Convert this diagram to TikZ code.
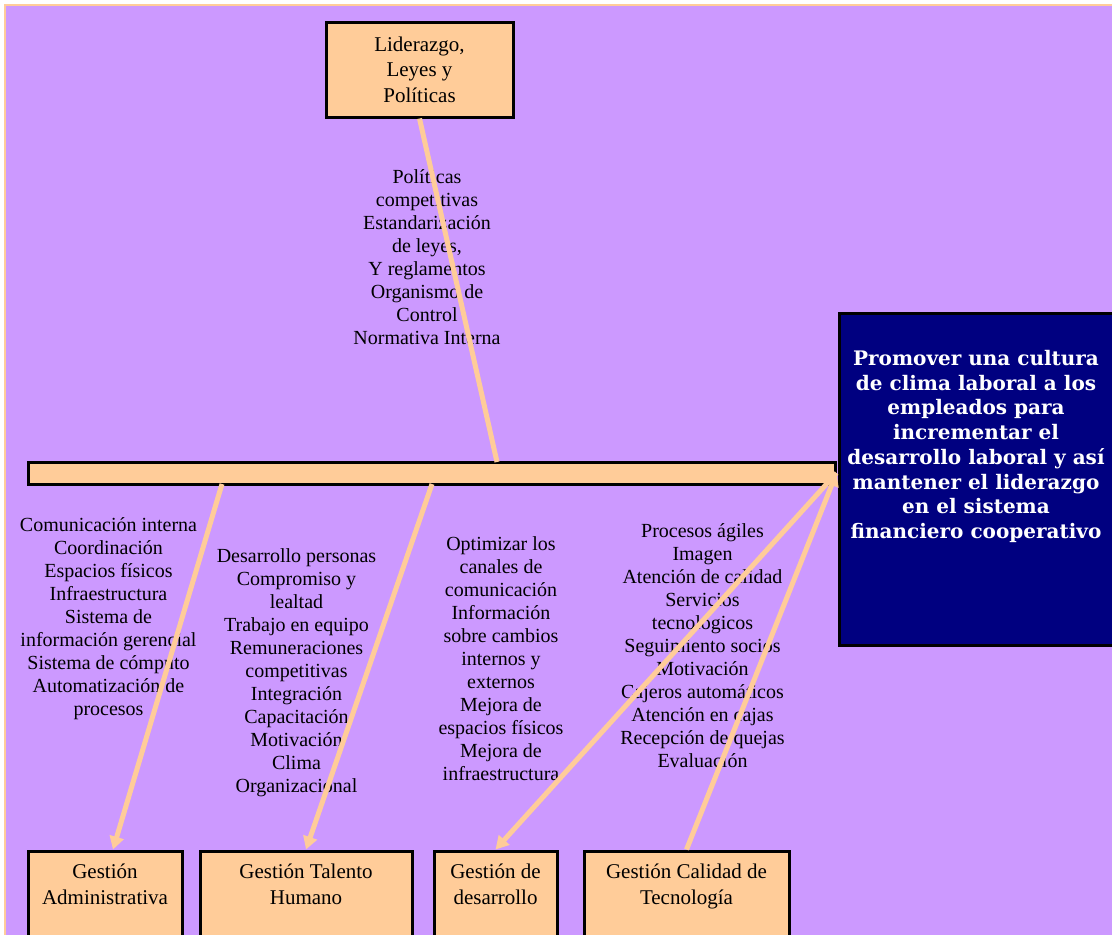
\documentclass[tikz,border=0pt]{standalone}
\usepackage{fontspec}
\setmainfont{Liberation Serif}
\newfontfamily\metafont{DejaVu Serif}
\usetikzlibrary{arrows.meta, positioning, calc}
\definecolor{lila}{HTML}{CC99FF}
\definecolor{durazno}{HTML}{FFCC99}
\definecolor{marino}{HTML}{000080}

\begin{document}
\begin{tikzpicture}[x=0.5pt, y=-0.5pt,
    caja/.style={rectangle, draw=black, line width=1.5pt, fill=durazno, inner sep=0pt},
    gtxt/.style={align=center, inner sep=0pt, font=\fontsize{10.5}{12.8}\selectfont},
    lista/.style={align=center, inner sep=0pt, font=\fontsize{10}{11.5}\selectfont},
    linea/.style={draw=durazno, line width=2.5pt},
    flecha/.style={linea, -{Triangle[length=6.5pt, width=7pt]}}]
    \useasboundingbox (0,0) rectangle (1112,934);
    \clip (0,0) rectangle (1112,934);
    \draw[draw=durazno, fill=lila, line width=1pt] (5,5) rectangle (1130,950);

    % cabeza y espina
    \node[caja, gtxt, minimum width=93.5pt, minimum height=47.5pt] (lider) at (419.5,69.5) {Liderazgo,\\Leyes y\\Políticas};
    \node[caja, minimum width=403.5pt, minimum height=11pt] (barra) at (431.5,473) {};
    \node[caja, fill=marino, minimum width=140pt, minimum height=166pt] (meta) at (979,479) {};
    \node[align=center, inner sep=0pt, text=white, font=\metafont\bfseries\fontsize{10}{12.35}\selectfont] (tmeta) at (976,446.5)
        {Promover una cultura\\de clima laboral a los\\empleados para\\incrementar el\\desarrollo laboral y así\\mantener el liderazgo\\en el sistema\\financiero cooperativo};

    % cajas de abajo
    \node[caja, minimum width=77pt, minimum height=45pt] (gadm) at (105,896) {};
    \node[caja, minimum width=106pt, minimum height=45pt] (gtal) at (306,896) {};
    \node[caja, minimum width=61.5pt, minimum height=45pt] (gdes) at (495.5,896) {};
    \node[caja, minimum width=102.5pt, minimum height=45pt] (gcal) at (686.5,896) {};
    \node[gtxt, below=7pt of gadm.north] (tgadm) {Gestión\\Administrativa};
    \node[gtxt, below=7pt of gtal.north] (tgtal) {Gestión Talento\\Humano};
    \node[gtxt, below=7pt of gdes.north] (tgdes) {Gestión de\\desarrollo};
    \node[gtxt, below=7pt of gcal.north] (tgcal) {Gestión Calidad de\\Tecnología};

    % listas
    \node[lista] (tlid) at (427,257.5) {Políticas\\competitivas\\Estandarización\\de leyes,\\Y reglamentos\\Organismo de\\Control\\Normativa Interna};
    \node[lista] (tadm) at (108.5,619) {Comunicación interna\\Coordinación\\Espacios físicos\\Infraestructura\\Sistema de\\información gerencial\\Sistema de cómputo\\Automatización de\\procesos};
    \node[lista] (ttal) at (296.5,673) {Desarrollo personas\\Compromiso y\\lealtad\\Trabajo en equipo\\Remuneraciones\\competitivas\\Integración\\Capacitación\\Motivación\\Clima\\Organizacional};
    \node[lista] (tdes) at (501,658.5) {Optimizar los\\canales de\\comunicación\\Información\\sobre cambios\\internos y\\externos\\Mejora de\\espacios físicos\\Mejora de\\infraestructura};
    \node[lista] (tcal) at (702.5,645.5) {Procesos ágiles\\Imagen\\Atención de calidad\\Servicios\\tecnologicos\\Seguimiento socios\\Motivación\\Cajeros automáticos\\Atención en cajas\\Recepción de quejas\\Evaluación};

    % flechas
    \coordinate (b1) at (497,462);
    \coordinate (b2) at (222,484);
    \coordinate (b3) at (432,484);
    \draw[linea] (lider.south) -- (b1);
    \draw[flecha] (b2) -- ($(gadm.north)+(8,0)$);
    \draw[flecha] (b3) -- (gtal.north);
    \draw[flecha] (barra.east) -- (gdes.north);
    \draw[flecha] (gcal.north) -- (barra.east);
\end{tikzpicture}
\end{document}
